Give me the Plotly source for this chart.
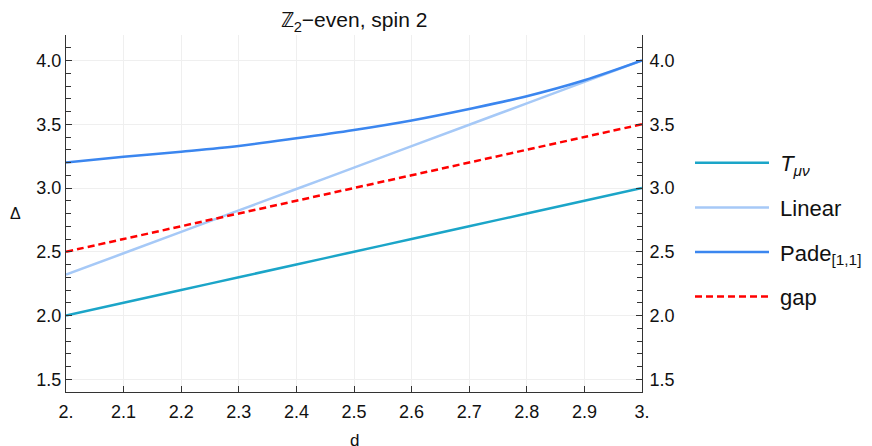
import plotly.graph_objects as go

d_vals = [2.0, 2.1, 2.2, 2.3, 2.4, 2.5, 2.6, 2.7, 2.8, 2.9, 3.0]
t_mu_nu = [2.0, 2.1, 2.2, 2.3, 2.4, 2.5, 2.6, 2.7, 2.8, 2.9, 3.0]
linear = [2.32, 2.488, 2.656, 2.824, 2.992, 3.16, 3.328, 3.496, 3.664, 3.832, 4.0]
pade = [3.20, 3.245, 3.285, 3.33, 3.39, 3.455, 3.53, 3.62, 3.72, 3.845, 4.0]
gap = [2.5, 2.6, 2.7, 2.8, 2.9, 3.0, 3.1, 3.2, 3.3, 3.4, 3.5]

x_tickvals = [2.0, 2.1, 2.2, 2.3, 2.4, 2.5, 2.6, 2.7, 2.8, 2.9, 3.0]
x_ticktext = ["2.", "2.1", "2.2", "2.3", "2.4", "2.5", "2.6", "2.7", "2.8", "2.9", "3."]
y_tickvals = [1.5, 2.0, 2.5, 3.0, 3.5, 4.0]
y_ticktext = ["1.5", "2.0", "2.5", "3.0", "3.5", "4.0"]

FONT = "Liberation Sans, Arial, sans-serif"
# page body has an 8px margin, so figure coords = picture coords - 8
OFF = 8
W, H = 864, 438
L, R, T, B = 66 - OFF, 642 - OFF, 35 - OFF, 392 - OFF

fig = go.Figure()
series = [
    ("&nbsp;<i>T</i><sub><i>μν</i></sub>", t_mu_nu, "#1ba5c8", "solid"),
    ("&nbsp;Linear", linear, "#a6c9f7", "solid"),
    ("&nbsp;Pade<sub>[1,1]</sub>", pade, "#3b86ef", "solid"),
    ("&nbsp;gap", gap, "#ff0000", "7px,4px"),
]
for i, (name, ys, col, dash) in enumerate(series):
    fig.add_trace(go.Scatter(
        x=d_vals, y=ys, mode="lines", name=name,
        line=dict(color=col, width=2.5, dash=dash, shape="spline"),
        legendgroup="g%d" % i,
    ))

# invisible trace for the right axis
fig.add_trace(go.Scatter(x=[2.0], y=[2.0], yaxis="y2", mode="lines",
                         showlegend=False, hoverinfo="skip",
                         line=dict(color="rgba(0,0,0,0)")))

axis_common = dict(
    showline=True, linecolor="#333333", linewidth=1,
    ticks="inside", ticklen=6, tickcolor="#333333",
    tickfont=dict(family=FONT, size=18, color="#111111"),
    zeroline=False, automargin=False,
)

fig.update_layout(
    width=W, height=H,
    margin=dict(l=L, r=W - R, t=T, b=H - B, autoexpand=False),
    paper_bgcolor="white", plot_bgcolor="white",
    font=dict(family=FONT, size=18, color="#111111"),
    title=dict(text="ℤ<sub>2</sub>−even, spin 2", x=(L + R) / 2 / W,
               xanchor="center", y=1 - 12 / H, yanchor="middle",
               font=dict(family=FONT, size=21, color="#111111")),
    xaxis=dict(range=[2.0, 3.0], tickvals=x_tickvals, ticktext=x_ticktext,
               showgrid=True, gridcolor="#efefef", gridwidth=1,
               ticklabelstandoff=3,
               **axis_common),
    yaxis=dict(range=[1.4, 4.2], tickvals=y_tickvals, ticktext=y_ticktext,
               showgrid=True, gridcolor="#efefef", gridwidth=1,
               minor=dict(dtick=0.1, tick0=1.4, ticks="inside", ticklen=5,
                          tickcolor="#333333", showgrid=False),
               **axis_common),
    yaxis2=dict(range=[1.4, 4.2], tickvals=y_tickvals, ticktext=y_ticktext,
                overlaying="y", side="right", showgrid=False,
                ticklabelstandoff=3,
                minor=dict(dtick=0.1, tick0=1.4, ticks="inside", ticklen=5,
                           tickcolor="#333333", showgrid=False),
                **axis_common),
    legend=dict(x=(682 - L) / (R - L), y=(B - 134) / (B - T), xanchor="left", yanchor="top",
                font=dict(family=FONT, size=22, color="#111111"),
                itemwidth=74, traceorder="grouped", tracegroupgap=13,
                bgcolor="rgba(0,0,0,0)"),
    showlegend=True,
    annotations=[
        dict(text="d", xref="paper", yref="paper", x=0.5, y=(B - 432) / (B - T),
             xanchor="center", yanchor="middle", showarrow=False,
             font=dict(family=FONT, size=17, color="#111111")),
        dict(text="Δ", xref="paper", yref="paper", x=(7 - L) / (R - L), y=(B - 205) / (B - T),
             xanchor="center", yanchor="middle", showarrow=False,
             font=dict(family=FONT, size=16, color="#111111")),
    ],
)

fig.write_html("out.html")
